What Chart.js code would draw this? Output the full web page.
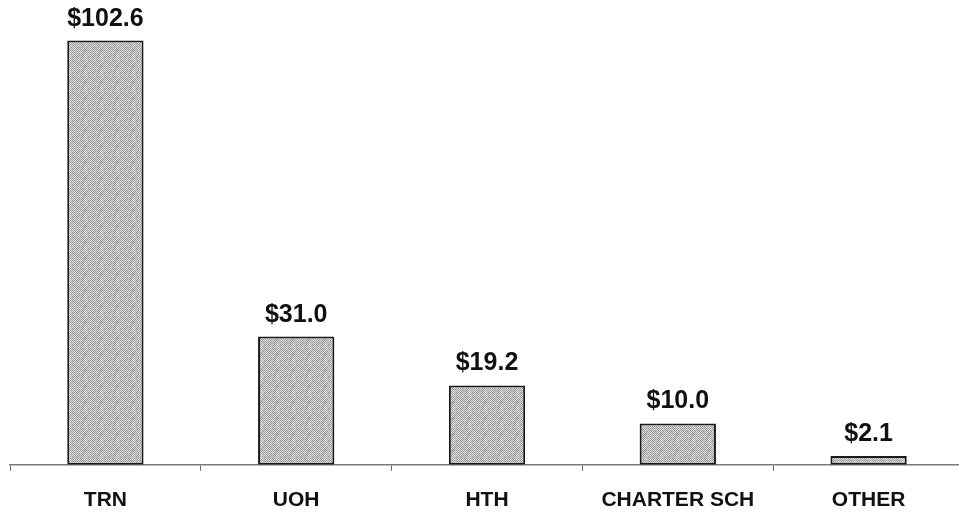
<!DOCTYPE html>
<html>
<head>
<meta charset="utf-8">
<script src="https://cdn.jsdelivr.net/npm/chart.js@4.4.1/dist/chart.umd.min.js"></script>
<style>
  html, body { margin: 0; padding: 0; background: #fff; overflow: hidden; }
  #wrap { position: relative; width: 964px; height: 513px; }
</style>
</head>
<body>
<div id="wrap"><canvas id="spendChart"></canvas></div>
<script>
// chart data
const categories = ["TRN", "UOH", "HTH", "CHARTER SCH", "OTHER"];
const amounts = [102.6, 31.0, 19.2, 10.0, 2.1];

// speckled gray fill like the scanned original (fixed hash, texture only)
function makeStipple() {
  const size = 16;
  const c = document.createElement("canvas");
  c.width = size; c.height = size;
  const g = c.getContext("2d");
  let s = 12345;
  for (let y = 0; y < size; y++) {
    for (let x = 0; x < size; x++) {
      s = (s * 1103515245 + 12345) & 0x7fffffff;
      const checker = (x + y) % 2 === 0 ? 155 : 218;
      const v = checker + ((s >> 16) % 40) - 20;
      g.fillStyle = "rgb(" + v + "," + v + "," + v + ")";
      g.fillRect(x, y, 1, 1);
    }
  }
  return g.createPattern(c, "repeat");
}

// value labels above each bar
const valueLabels = {
  id: "valueLabels",
  afterDatasetsDraw(chart) {
    const ctx = chart.ctx;
    const meta = chart.getDatasetMeta(0);
    ctx.save();
    ctx.font = "bold 25px 'Liberation Sans', Arial, sans-serif";
    ctx.fillStyle = "#111";
    ctx.textAlign = "center";
    ctx.textBaseline = "alphabetic";
    meta.data.forEach((bar, i) => {
      ctx.fillText("$" + amounts[i].toFixed(1), bar.x, bar.y - 15);
    });
    ctx.restore();
  }
};

new Chart(document.getElementById("spendChart"), {
  type: "bar",
  data: {
    labels: categories,
    datasets: [{
      data: amounts,
      backgroundColor: makeStipple(),
      borderColor: "#1a1a1a",
      borderWidth: 2,
      borderSkipped: false,
      categoryPercentage: 1,
      barPercentage: 0.4
    }]
  },
  options: {
    responsive: true,
    maintainAspectRatio: false,
    animation: false,
    layout: { padding: { left: 10, right: 0, top: 0, bottom: -17 } },
    plugins: {
      legend: { display: false },
      tooltip: { enabled: false }
    },
    scales: {
      x: {
        offset: true,
        grid: {
          display: true,
          offset: true,
          drawOnChartArea: false,
          drawTicks: true,
          tickLength: 6,
          tickColor: "#666"
        },
        border: { display: true, color: "#7a7a7a", width: 1.5 },
        ticks: {
          color: "#111",
          padding: 17,
          font: { family: "'Liberation Sans', Arial, sans-serif", size: 21, weight: "bold" }
        }
      },
      y: {
        display: false,
        min: 0,
        max: 112.4
      }
    }
  },
  plugins: [valueLabels]
});
</script>
</body>
</html>
